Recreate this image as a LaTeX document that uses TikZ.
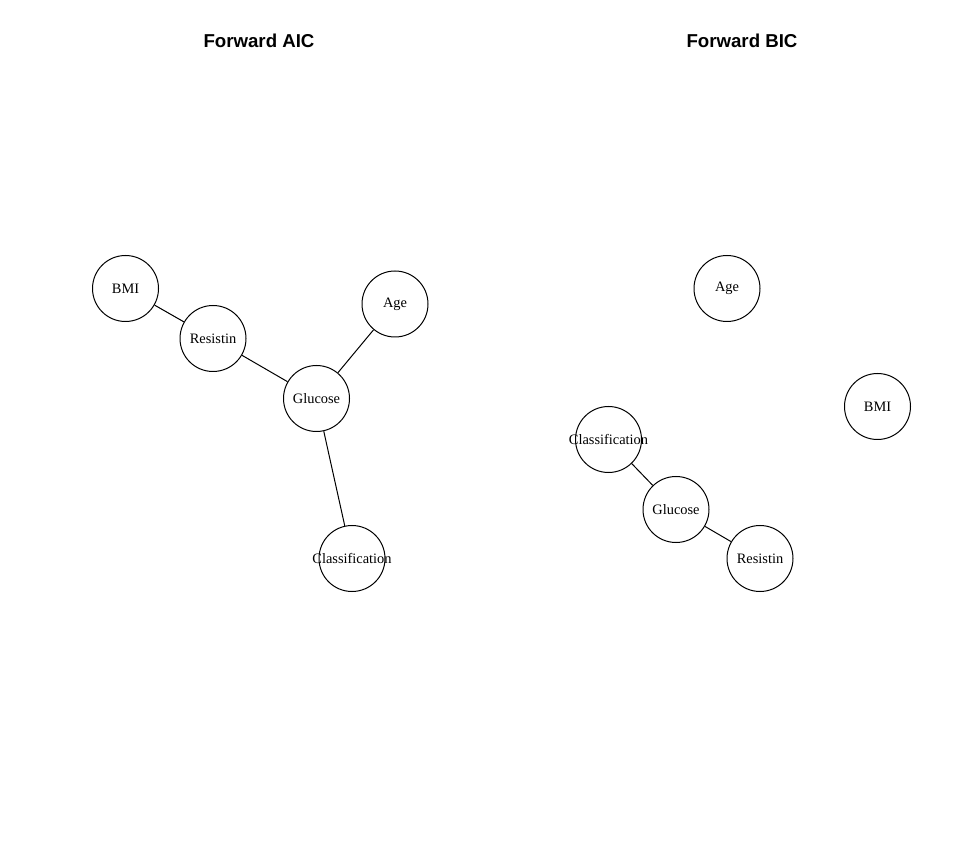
\documentclass[tikz,border=0pt]{standalone}
\usepackage{fontspec}
\setmainfont{Liberation Serif}
\newfontfamily\titlefont{Liberation Sans}
\begin{document}
\begin{tikzpicture}[x=0.75pt,y=-0.75pt,
  vnode/.style={circle,draw,line width=0.75pt,minimum size=49.5pt,inner sep=0pt,
    label={[font=\fontsize{10.8}{12}\selectfont,inner sep=0pt]center:#1}},
  edge/.style={line width=0.75pt},
  ttl/.style={font=\titlefont\bfseries\fontsize{14}{16}\selectfont}]
\useasboundingbox (0,0) rectangle (965,866);
\fill[white] (0,0) rectangle (965,866);
\node[ttl] (t1) at (259,41) {Forward AIC};
\node[ttl] (t2) at (742,41) {Forward BIC};
% left graph
\node[vnode=BMI] (lbmi) at (125.5,288.5) {};
\node[vnode=Resistin] (lres) at (213,338.5) {};
\node[vnode=Glucose] (lglu) at (316.5,398.5) {};
\node[vnode=Age] (lage) at (395,304) {};
\node[vnode=Classification] (lcla) at (352,558.5) {};
\draw[edge] (lbmi) -- (lres);
\draw[edge] (lres) -- (lglu);
\draw[edge] (lglu) -- (lage);
\draw[edge] (lglu) -- (lcla);
% right graph
\node[vnode=Age] (rage) at (727,288.5) {};
\node[vnode=BMI] (rbmi) at (877.5,406.5) {};
\node[vnode=Classification] (rcla) at (608.5,439.5) {};
\node[vnode=Glucose] (rglu) at (676,509.5) {};
\node[vnode=Resistin] (rres) at (760,558.5) {};
\draw[edge] (rcla) -- (rglu);
\draw[edge] (rglu) -- (rres);
\end{tikzpicture}
\end{document}
